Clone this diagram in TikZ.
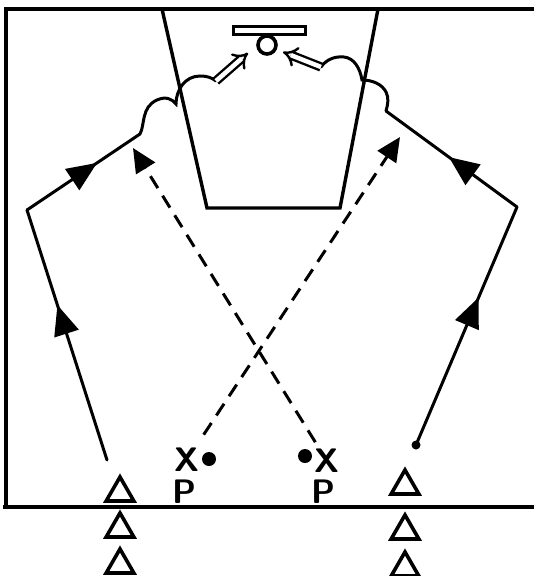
\documentclass[tikz,border=0pt]{standalone}
\usepackage{tikz}
\usetikzlibrary{arrows.meta,decorations.markings,shapes.geometric}

\begin{document}
\begin{tikzpicture}[x=1pt,y=-1pt,
    court/.style={line width=4.2pt},
    run/.style={line width=3pt,line cap=round},
    midarrow/.style={postaction={decorate},decoration={markings,
        mark=at position #1 with {\arrow{Triangle[length=30pt,width=25pt]}}}},
    pass/.style={line width=3pt,dash pattern=on 14pt off 9pt,
        -{Triangle[length=24pt,width=22pt]}},
    shot/.style={double,double distance=4.5pt,line width=2.4pt,-{Implies}},
    cone/.style={regular polygon,regular polygon sides=3,draw,line width=3.6pt,
        inner sep=0pt,minimum size=32pt},
    player/.style={font=\sffamily\bfseries\fontsize{34}{34}\selectfont,inner sep=0pt},
    ball/.style={circle,fill,inner sep=0pt,minimum size=14pt}]
    \useasboundingbox (0,0) rectangle (534,576);

    % court
    \coordinate (A) at (6,9);
    \coordinate (B) at (534,9);
    \coordinate (C) at (3,507);
    \coordinate (D) at (534,507);
    \draw[court] (B) -- (A) -- (6,507);
    \draw[court] (C) -- (D);

    % lane
    \coordinate (K1) at (162,9);
    \coordinate (K2) at (207,208);
    \coordinate (K3) at (340,208);
    \coordinate (K4) at (378,9);
    \draw[line width=3.4pt] (K1) -- (K2) -- (K3) -- (K4);

    % basket
    \node[draw,line width=3pt,minimum width=72pt,minimum height=8pt,inner sep=0pt] (board) at (269,30.5) {};
    \node[circle,draw,line width=3.6pt,minimum size=18pt,inner sep=0pt] (rim) at (267,45) {};

    % players
    \node[player] (xl) at (187,460) {X};
    \node[player] (pl) at (184,492) {P};
    \node[player] (xr) at (327,461) {X};
    \node[player] (pr) at (323,492) {P};
    \node[ball] (bl) at (209,459) {};
    \node[ball] (br) at (305,456) {};

    % cones
    \node[cone] (t1) at (120,493) {};
    \node[cone] (t2) at (120,529) {};
    \node[cone] (t3) at (120,565) {};
    \node[cone] (t4) at (405,486) {};
    \node[cone] (t5) at (405,531) {};
    \node[cone] (t6) at (405,568) {};

    % runs
    \coordinate (LB) at (107,460);
    \coordinate (LC) at (27,210);
    \coordinate (LT) at (140,134);
    \coordinate (LS) at (216,81);
    \coordinate (LH) at (248,53);
    \coordinate (RB) at (416,445);
    \coordinate (RC) at (517,207);
    \coordinate (RT) at (386,111);
    \coordinate (RS) at (321,67);
    \coordinate (RH) at (283,52);

    \draw[run,midarrow=0.62] (LB) -- (LC);
    \draw[run,midarrow=0.62] (LC) -- (LT);
    \draw[run,midarrow=0.62] (RB) -- (RC);
    \draw[run,midarrow=0.52] (RC) -- (RT);
    \fill (RB) circle (4.5pt);

    % screens
    \draw[run] (LT) .. controls (145,125) and (141,107) .. (157,100)
        .. controls (166,96) and (172,99) .. (176,104)
        .. controls (176,90) and (185,76) .. (200,76)
        .. controls (208,76) and (212,78) .. (LS);
    \draw[run] (RT) .. controls (388,104) and (389,98) .. (386,92)
        .. controls (382,84) and (372,80) .. (362,80)
        .. controls (360,68) and (354,58) .. (344,57)
        .. controls (334,56) and (326,60) .. (RS);
    \draw[shot] (LS) -- (LH);
    \draw[shot] (RS) -- (RH);

    % passes
    \coordinate (PL) at (133,148);
    \coordinate (PR) at (400,137);
    \draw[pass,shorten <=8pt] (xr) -- (PL);
    \draw[pass,shorten <=16pt] (xl) -- (PR);
\end{tikzpicture}
\end{document}
